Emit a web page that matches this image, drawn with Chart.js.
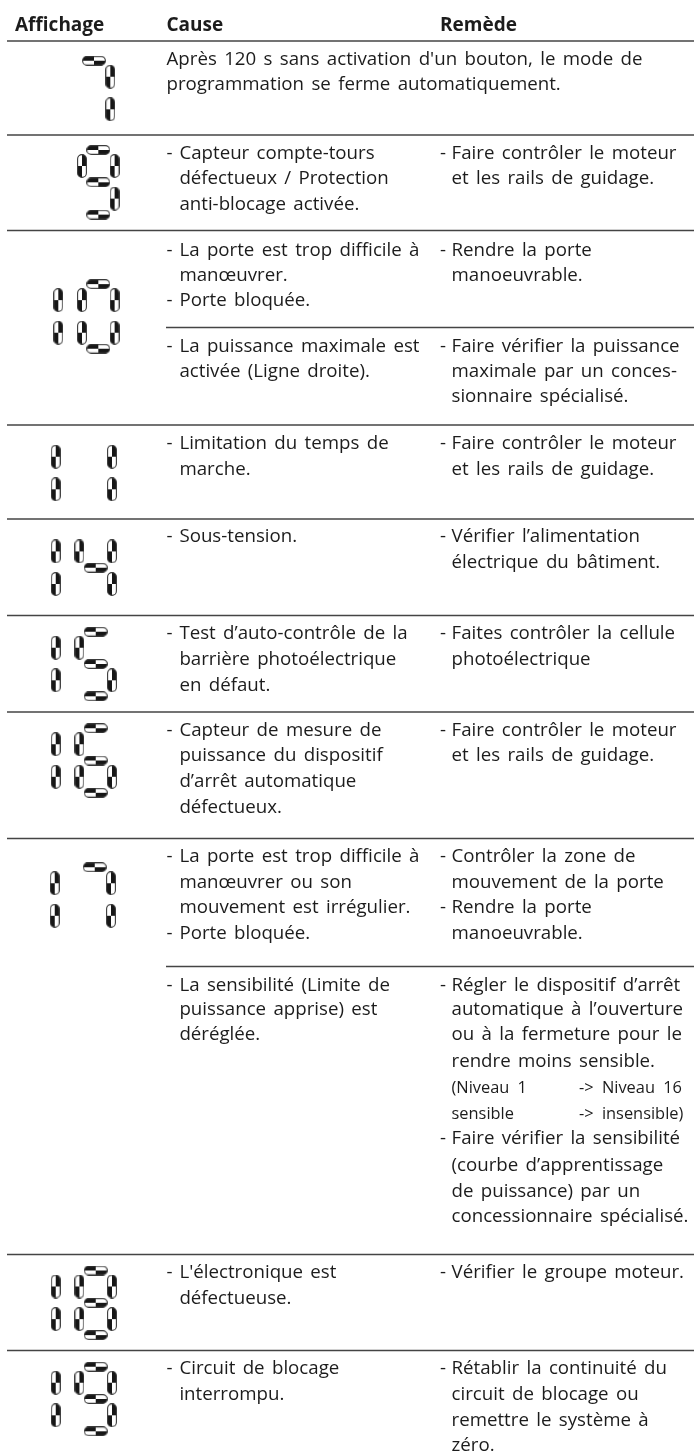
<!DOCTYPE html>
<html lang="fr">
<head>
<meta charset="utf-8">
<title>Affichage</title>
<script src="https://cdn.jsdelivr.net/npm/chart.js@4/dist/chart.umd.min.js"></script>
<style>
  html, body { margin: 0; padding: 0; background: #fff; }
  canvas { display: block; }
</style>
</head>
<body>
<canvas id="table" width="694" height="1451"></canvas>
<script>
const headers = ['Affichage', 'Cause', 'Remède'];

// codes shown on the display, one per table row
const displayCodes = ['7', '9', '10', '11', '14', '15', '16', '17', '18', '19'];
const displayRowY = [93, 182.3, 316.4, 473, 567.7, 664, 760.5, 899.5, 1302.8, 1399];
const displayShiftX = [-1.7, 2.6, 2.6, 0, 0, 0, 0, -1, 0, 0];

const fullRules = [41, 135, 230.5, 425, 519, 615.5, 712, 838.5, 1254.5, 1350.5];
const partRules = [327.5, 966.5];

const causeLines = [
  'Après 120 s sans activation d\'un bouton, le mode de',
  'programmation se ferme automatiquement.',
  '- Capteur compte-tours', 'défectueux / Protection', 'anti-blocage activée.',
  '- La porte est trop difficile à', 'manœuvrer.', '- Porte bloquée.',
  '- La puissance maximale est', 'activée (Ligne droite).',
  '- Limitation du temps de', 'marche.',
  '- Sous-tension.',
  '- Test d’auto-contrôle de la', 'barrière photoélectrique', 'en défaut.',
  '- Capteur de mesure de', 'puissance du dispositif', 'd’arrêt automatique', 'défectueux.',
  '- La porte est trop difficile à', 'manœuvrer ou son', 'mouvement est irrégulier.', '- Porte bloquée.',
  '- La sensibilité (Limite de', 'puissance apprise) est', 'déréglée.',
  '- L\'électronique est', 'défectueuse.',
  '- Circuit de blocage', 'interrompu.'
];
const causeY = [
  65, 90,
  159.3, 184.3, 210,
  255.7, 280.7, 305.7,
  351.7, 376.7,
  449, 475,
  542.3,
  639.3, 665, 690.7,
  736, 761, 786.7, 812.7,
  861.7, 887.7, 913.3, 939,
  990.7, 1015, 1040,
  1278.3, 1304.3,
  1374, 1400
];

const remedyLines = [
  '- Faire contrôler le moteur', 'et les rails de guidage.',
  '- Rendre la porte', 'manoeuvrable.',
  '- Faire vérifier la puissance', 'maximale par un conces-', 'sionnaire spécialisé.',
  '- Faire contrôler le moteur', 'et les rails de guidage.',
  '- Vérifier l’alimentation', 'électrique du bâtiment.',
  '- Faites contrôler la cellule', 'photoélectrique',
  '- Faire contrôler le moteur', 'et les rails de guidage.',
  '- Contrôler la zone de', 'mouvement de la porte', '- Rendre la porte', 'manoeuvrable.',
  '- Régler le dispositif d’arrêt', 'automatique à l’ouverture', 'ou à la fermeture pour le', 'rendre moins sensible.',
  '- Faire vérifier la sensibilité', '(courbe d’apprentissage', 'de puissance) par un', 'concessionnaire spécialisé.',
  '- Vérifier le groupe moteur.',
  '- Rétablir la continuité du', 'circuit de blocage ou', 'remettre le système à', 'zéro.'
];
const remedyY = [
  159.3, 184.3,
  255.7, 280.7,
  351.7, 376.7, 402.3,
  449, 475,
  542.3, 568.3,
  639.3, 665,
  736, 761,
  861.7, 887.7, 913.3, 939,
  990.7, 1015, 1040, 1066.7,
  1144, 1170.7, 1196.7, 1222,
  1278.3,
  1374, 1400, 1425.7, 1451
];

const noteLeft = ['(Niveau 1', 'sensible'];
const noteRight = ['-> Niveau 16', '-> insensible)'];
const noteY = [1093, 1119];

// seven segment layout
const digitSegments = {
  '0': 'abcdef', '1': 'bc', '4': 'bcfg', '5': 'acdfg', '6': 'acdefg',
  '7': 'abc', '8': 'abcdefg', '9': 'abcdfg'
};
const tensX = 55.7;
const unitsX = 95.7;
const segOffset = {
  a: [0, -32.3], b: [16.3, -16.3], c: [16.3, 16.3], d: [0, 32.3],
  e: [-16.3, 16.3], f: [-16.3, -16.3], g: [0, 0]
};

function makePill(horizontal) {
  const long = 24, thick = 10;
  const c = document.createElement('canvas');
  c.width = horizontal ? long : thick;
  c.height = horizontal ? thick : long;
  const g = c.getContext('2d');
  const path = new Path2D();
  path.roundRect(0.6, 0.6, c.width - 1.2, c.height - 1.2, thick / 2);
  g.save();
  g.clip(path);
  g.fillStyle = '#161616';
  if (horizontal) {
    g.fillRect(0, 0, long / 2, thick / 2);
    g.fillRect(long / 2, thick / 2, long / 2, thick / 2);
  } else {
    g.fillRect(thick / 2, 0, thick / 2, long / 2);
    g.fillRect(0, long / 2, thick / 2, long / 2);
  }
  g.restore();
  g.strokeStyle = '#3a3a3a';
  g.lineWidth = 1.1;
  g.stroke(path);
  return c;
}

const horizontalSegs = [];
const verticalSegs = [];
displayCodes.forEach(function(code, i) {
  const units = code[code.length - 1];
  digitSegments[units].split('').forEach(function(s) {
    const p = { x: unitsX + displayShiftX[i] + segOffset[s][0], y: displayRowY[i] + segOffset[s][1] };
    ('adg'.includes(s) ? horizontalSegs : verticalSegs).push(p);
  });
  if (code.length > 1) {
    [-16.3, 16.3].forEach(function(dy) {
      verticalSegs.push({ x: tensX + displayShiftX[i], y: displayRowY[i] + dy });
    });
  }
});

function ruleDataset(y, x0) {
  return {
    type: 'line',
    data: [{ x: x0, y: y }, { x: 694, y: y }],
    borderColor: '#444',
    borderWidth: 1.5,
    pointRadius: 0
  };
}

const textFont = '"Open Sans", sans-serif';
const textPlugin = {
  id: 'tableText',
  afterDatasetsDraw(chart) {
    const ctx = chart.ctx;
    const sx = chart.scales.x;
    const sy = chart.scales.y;
    function put(str, x, y) {
      ctx.fillText(str, sx.getPixelForValue(x), sy.getPixelForValue(y));
    }
    function column(lines, ys, left, indent) {
      lines.forEach(function(line, i) {
        if (line.startsWith('- ')) {
          put('-', left, ys[i]);
          put(line.slice(2), indent, ys[i]);
        } else if (i < 2 && left === causeLeft) {
          put(line, left, ys[i]);
        } else {
          put(line, indent, ys[i]);
        }
      });
    }
    const causeLeft = 166.5;
    ctx.save();
    ctx.textBaseline = 'alphabetic';
    ctx.fillStyle = '#1c1c1c';

    ctx.font = '700 19px ' + textFont;
    put(headers[0], 15, 30.5);
    put(headers[1], causeLeft, 30.5);
    put(headers[2], 440, 30.5);

    ctx.font = '400 18.7px ' + textFont;
    ctx.wordSpacing = '2.5px';
    column(causeLines, causeY, causeLeft, 179.4);
    column(remedyLines, remedyY, 440, 451.5);

    ctx.font = '400 16.4px ' + textFont;
    ctx.wordSpacing = '4px';
    noteLeft.forEach(function(t, i) { put(t, 451.5, noteY[i]); });
    noteRight.forEach(function(t, i) { put(t, 579, noteY[i]); });
    ctx.restore();
  }
};

new Chart(document.getElementById('table'), {
  type: 'scatter',
  data: {
    datasets: [
      { data: horizontalSegs, pointStyle: makePill(true), pointRadius: 12 },
      { data: verticalSegs, pointStyle: makePill(false), pointRadius: 12 }
    ].concat(fullRules.map(function(y) { return ruleDataset(y, 7); }))
     .concat(partRules.map(function(y) { return ruleDataset(y, 166); }))
  },
  options: {
    responsive: false,
    animation: false,
    layout: { padding: 0, autoPadding: false },
    plugins: { legend: { display: false }, tooltip: { enabled: false } },
    scales: {
      x: { type: 'linear', min: 0, max: 694, display: false },
      y: { type: 'linear', min: 0, max: 1451, reverse: true, display: false }
    }
  },
  plugins: [textPlugin]
});
</script>
</body>
</html>
